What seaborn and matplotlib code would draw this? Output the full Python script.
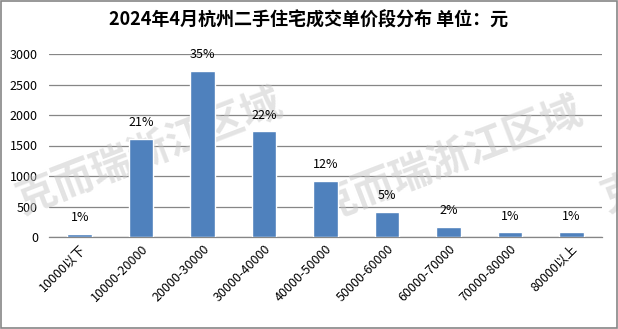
import matplotlib
matplotlib.use("Agg")
import matplotlib.pyplot as plt
import seaborn as sns
import pandas as pd
from matplotlib.patches import Rectangle

categories = ["10000以下", "10000-20000", "20000-30000", "30000-40000", "40000-50000",
              "50000-60000", "60000-70000", "70000-80000", "80000以上"]
counts = [50, 1610, 2720, 1730, 920, 410, 165, 75, 75]
pct_labels = ["1%", "21%", "35%", "22%", "12%", "5%", "2%", "1%", "1%"]
y_ticks = [0, 500, 1000, 1500, 2000, 2500, 3000]
title = "2024年4月杭州二手住宅成交单价段分布 单位：元"
watermark = "克而瑞浙江区域"

sns.set_theme(style="white")
plt.rcParams['font.family'] = ['Noto Sans CJK SC', 'DejaVu Sans']

df = pd.DataFrame({"cat": categories, "count": counts})

fig = plt.figure(figsize=(6.18, 3.29), dpi=100)
ax = fig.add_axes([49/618, 1-237/329, (602-49)/618, (237-54)/329])

sns.barplot(data=df, x="cat", y="count", color="#4F81BD", saturation=1,
            width=0.4, ax=ax, zorder=3)

ax.set_ylim(0, 3000)
ax.set_yticks(y_ticks)
ax.set_yticklabels([str(v) for v in y_ticks], fontsize=9, color="#000000")
ax.set_xlabel("")
ax.set_ylabel("")
ax.grid(axis="y", color="#868686", linewidth=0.9, zorder=0)
ax.set_axisbelow(True)
for s in ["top", "right", "left"]:
    ax.spines[s].set_visible(False)
ax.spines["bottom"].set_color("#868686")
ax.spines["bottom"].set_linewidth(0.9)
ax.tick_params(axis="y", length=0, pad=8)
ax.tick_params(axis="x", length=0, pad=4)
plt.setp(ax.get_xticklabels(), rotation=45, ha="right", rotation_mode="anchor",
         fontsize=9, color="#000000")

for i, (c, lab) in enumerate(zip(counts, pct_labels)):
    ax.annotate(lab, (i, c), xytext=(0, 7), textcoords="offset points",
                ha="center", va="bottom", fontsize=9, color="#000000", zorder=4)

# watermark (behind bars, over grid)
for (x, y) in [(150/618, 1-152/329), (450/618, 1-160/329), (735/618, 1-150/329)]:
    ax.text(x, y, watermark, transform=fig.transFigure, fontsize=29,
            fontweight="bold", color="#c8c8c8", alpha=0.5, rotation=21,
            ha="center", va="center", zorder=2, clip_on=False)

fig.text(0.5, 1-20/329, title, ha="center", va="center", fontsize=13,
         fontweight="bold", color="#000000")

fig.patches.append(Rectangle((0.001, 0.002), 0.997, 0.995, transform=fig.transFigure,
                             fill=False, edgecolor="#868686", linewidth=1.2))

fig.savefig("out.png", dpi=100)
